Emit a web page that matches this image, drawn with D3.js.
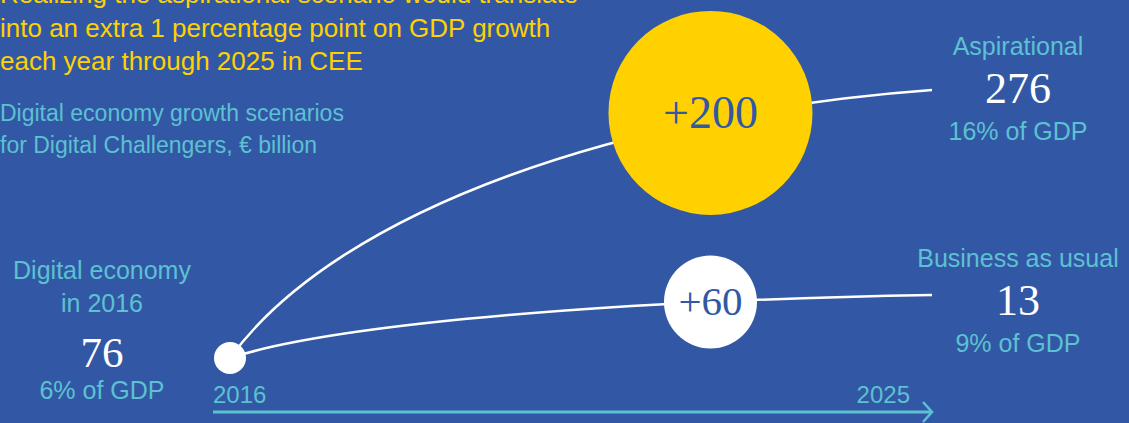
<!DOCTYPE html>
<html>
<head>
<meta charset="utf-8">
<script src="https://cdn.jsdelivr.net/npm/d3@7"></script>
<style>
  html, body { margin: 0; padding: 0; overflow: hidden; background: #3258a5; }
  svg { display: block; }
</style>
</head>
<body>
<script>
// ---- Data ----
const titleLines = [
  "Realizing the aspirational scenario would translate",
  "into an extra 1 percentage point on GDP growth",
  "each year through 2025 in CEE"
];
const subtitleLines = [
  "Digital economy growth scenarios",
  "for Digital Challengers, \u20AC billion"
];
const years = [2016, 2025];
const startLabelLines = ["Digital economy", "in 2016"];
const startValue = 76;
const startValueLabel = "76";
const startGdp = "6% of GDP";
const scenarios = ["Aspirational", "Business as usual"];
const endValues = [276, 136];
const endValueLabels = ["276", "13"];
const endGdp = ["16% of GDP", "9% of GDP"];
const increments = [200, 60];
const incrementLabels = ["+200", "+60"];

// ---- Style ----
const W = 1129, H = 423;
const BG = "#3258a5", YELLOW = "#ffd100", TEAL = "#5cc1d1", WHITE = "#ffffff";
const SANS = "'Liberation Sans', Arial, Helvetica, sans-serif";
const SERIF = "'Liberation Serif', 'Times New Roman', serif";
const bubbleYear = 2022.16;
const bubbleFill = [YELLOW, WHITE];
const bubbleLift = [7, 0];
const labelShift = [-3, 4];

const svg = d3.select("body").append("svg").attr("width", W).attr("height", H);
svg.append("rect").attr("width", W).attr("height", H).attr("fill", BG);

// ---- Scales ----
const x = d3.scaleLinear().domain(years).range([230, 932]);
const y = d3.scalePow().exponent(1.5).domain([startValue, d3.max(endValues)]).range([358, 90]);
const r = d3.scaleLinear().domain([d3.min(increments), d3.max(increments)]).range([46.5, 102]);

function ctrl(v) {
  const x0 = x(years[0]), y0 = y(startValue), x1 = x(years[1]), y1 = y(v);
  const dx = x1 - x0, dy = y1 - y0;
  return [[x0, y0], [x0 + 0.156 * dx, y0 + 0.562 * dy], [x0 + 0.569 * dx, y0 + 0.918 * dy], [x1, y1]];
}
function bez(P, t) {
  const u = 1 - t, a = u*u*u, b = 3*u*u*t, c = 3*u*t*t, d = t*t*t;
  return [a*P[0][0] + b*P[1][0] + c*P[2][0] + d*P[3][0], a*P[0][1] + b*P[1][1] + c*P[2][1] + d*P[3][1]];
}
function pointAtX(P, px) {
  let lo = 0, hi = 1;
  for (let i = 0; i < 40; i++) { const m = (lo + hi) / 2; if (bez(P, m)[0] < px) lo = m; else hi = m; }
  return bez(P, (lo + hi) / 2);
}

// ---- Title ----
const title = svg.append("g").attr("font-family", SANS).attr("fill", YELLOW).attr("font-size", 26);
titleLines.forEach((t, i) => title.append("text").attr("x", 0).attr("y", 3 + i * 33.5).text(t));
const sub = svg.append("g").attr("font-family", SANS).attr("fill", TEAL).attr("font-size", 23);
subtitleLines.forEach((t, i) => sub.append("text").attr("x", 0).attr("y", 121 + i * 32).text(t));

// ---- Curves ----
const curves = svg.append("g");
endValues.forEach((v, i) => {
  const P = ctrl(v);
  const p = d3.path();
  p.moveTo(P[0][0], P[0][1]);
  p.bezierCurveTo(P[1][0], P[1][1], P[2][0], P[2][1], P[3][0], P[3][1]);
  curves.append("path").attr("d", p.toString()).attr("fill", "none")
    .attr("stroke", WHITE).attr("stroke-width", 2.5);
});

// ---- Start dot ----
svg.append("circle").attr("cx", x(years[0])).attr("cy", y(startValue)).attr("r", 16).attr("fill", WHITE);

// ---- Bubbles ----
increments.forEach((v, i) => {
  const P = ctrl(endValues[i]);
  const [cx, cy0] = pointAtX(P, x(bubbleYear));
  const cy = cy0 - bubbleLift[i];
  svg.append("circle").attr("cx", cx).attr("cy", cy).attr("r", r(v)).attr("fill", bubbleFill[i]);
  svg.append("text").attr("x", cx).attr("y", cy + (i === 0 ? 15 : 13))
    .attr("text-anchor", "middle").attr("font-family", SERIF)
    .attr("font-size", i === 0 ? 46 : 41).attr("fill", BG).text(incrementLabels[i]);
});

// ---- End labels ----
const lx = x(years[1]) + 86;
scenarios.forEach((s, i) => {
  const yy = y(endValues[i]) + labelShift[i];
  const g = svg.append("g").attr("text-anchor", "middle");
  g.append("text").attr("x", lx).attr("y", yy - 32).attr("font-family", SANS).attr("font-size", 25)
    .attr("fill", TEAL).text(s);
  g.append("text").attr("x", lx).attr("y", yy + 16).attr("font-family", SERIF).attr("font-size", 44)
    .attr("fill", WHITE).text(endValueLabels[i]);
  g.append("text").attr("x", lx).attr("y", yy + 53).attr("font-family", SANS).attr("font-size", 25)
    .attr("fill", TEAL).text(endGdp[i]);
});

// ---- Start labels ----
const sx = 102, sy = y(startValue);
const sg = svg.append("g").attr("text-anchor", "middle");
startLabelLines.forEach((t, i) => sg.append("text").attr("x", sx).attr("y", sy - 79 + i * 33)
  .attr("font-family", SANS).attr("font-size", 25).attr("fill", TEAL).text(t));
sg.append("text").attr("x", sx).attr("y", sy + 9).attr("font-family", SERIF).attr("font-size", 43)
  .attr("fill", WHITE).text(startValueLabel);
sg.append("text").attr("x", sx).attr("y", sy + 41).attr("font-family", SANS).attr("font-size", 25)
  .attr("fill", TEAL).text(startGdp);

// ---- Time arrow ----
const ay = 412;
const ax0 = x(years[0]) - 17, ax1 = x(years[1]);
svg.append("line").attr("x1", ax0).attr("x2", ax1 - 1).attr("y1", ay).attr("y2", ay)
  .attr("stroke", TEAL).attr("stroke-width", 3);
svg.append("polyline").attr("points", [[ax1 - 9, ay - 10], [ax1, ay], [ax1 - 9, ay + 10]].map(p => p.join(",")).join(" "))
  .attr("fill", "none").attr("stroke", TEAL).attr("stroke-width", 2.5);
svg.append("text").attr("x", ax0).attr("y", 403).attr("font-family", SANS).attr("font-size", 24)
  .attr("fill", TEAL).text(years[0]);
svg.append("text").attr("x", ax1 - 22).attr("y", 403).attr("text-anchor", "end").attr("font-family", SANS)
  .attr("font-size", 24).attr("fill", TEAL).text(years[1]);
</script>
</body>
</html>
